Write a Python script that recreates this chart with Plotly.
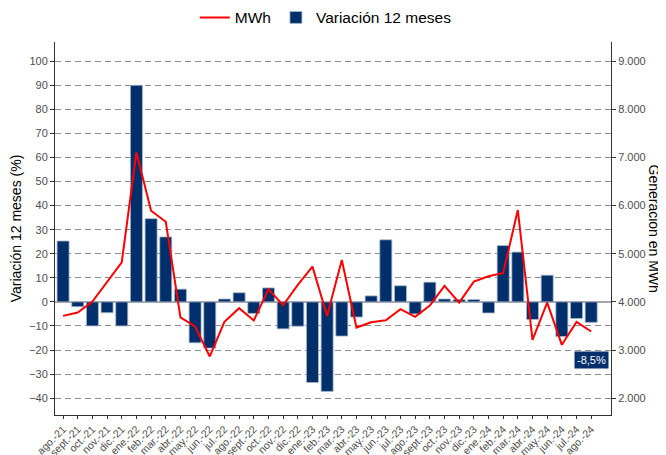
import plotly.graph_objects as go

months = ["ago.-21", "sept.-21", "oct.-21", "nov.-21", "dic.-21",
          "ene.-22", "feb.-22", "mar.-22", "abr.-22", "may.-22", "jun.-22", "jul.-22",
          "ago.-22", "sept.-22", "oct.-22", "nov.-22", "dic.-22",
          "ene.-23", "feb.-23", "mar.-23", "abr.-23", "may.-23", "jun.-23", "jul.-23",
          "ago.-23", "sept.-23", "oct.-23", "nov.-23", "dic.-23",
          "ene.-24", "feb.-24", "mar.-24", "abr.-24", "may.-24", "jun.-24", "jul.-24",
          "ago.-24"]

variacion = [25.3, -2.0, -10.0, -4.5, -10.0,
             90.0, 34.6, 27.0, 5.3, -17.0, -19.2, 1.2,
             3.8, -4.8, 5.8, -11.2, -10.1,
             -33.5, -37.2, -14.2, -6.3, 2.5, 25.8, 6.7,
             -5.0, 8.2, 1.2, 1.0, 1.0,
             -4.6, 23.4, 20.7, -7.3, 11.1, -14.4, -6.9,
             -8.5]

mwh = [3710, 3780, 4007, 4420, 4823,
       7105, 5894, 5666, 3680, 3490, 2866, 3585,
       3869, 3613, 4263, 3931, 4353,
       4733, 3710, 4871, 3467, 3578, 3620, 3848,
       3689, 3924, 4332, 3986, 4422,
       4532, 4602, 5909, 3212, 3986, 3108, 3585,
       3385]

left_ticks = list(range(-40, 101, 10))
right_ticks = list(range(2000, 9001, 1000))
right_labels = ["2.000", "3.000", "4.000", "5.000", "6.000", "7.000", "8.000", "9.000"]
last_label = "-8,5%"

x = list(range(len(months)))
navy = "#002f6c"
tick_color = "#4d4d4d"
font_family = "Liberation Sans, Arial, sans-serif"

fig = go.Figure()
fig.add_trace(go.Scatter(x=x, y=mwh, name="MWh", mode="lines",
                         line=dict(color="#ff0000", width=2), yaxis="y2"))
fig.add_trace(go.Bar(x=x, y=variacion, name="Variación 12 meses",
                     marker=dict(color=navy, line=dict(color="#a9b7cc", width=0.8)),
                     width=0.82))

fig.add_annotation(x=x[-1], y=-24, xref="x", yref="y", text=last_label,
                   showarrow=False, bgcolor=navy, font=dict(color="white", size=11),
                   borderpad=2)
fig.add_annotation(x=1.0, xref="paper", xanchor="center", xshift=43, y=0.5, yref="paper",
                   yanchor="middle", text="Generación en MWh", textangle=90, showarrow=False,
                   font=dict(size=14, color="black"))

lo, hi = -47, 108
fig.update_layout(
    width=658, height=447,
    margin=dict(l=47, r=55, t=34, b=40),
    plot_bgcolor="white", paper_bgcolor="white",
    font=dict(family=font_family, size=12, color=tick_color),
    showlegend=True,
    legend=dict(orientation="h", x=0.487, xanchor="center", y=0.978, yanchor="middle",
                yref="container", font=dict(size=15.5, color="black"),
                traceorder="normal"),
    xaxis=dict(range=[-0.55, 37.35], tickmode="array", tickvals=x, ticktext=months,
               tickangle=-45, ticks="outside", ticklen=3, tickcolor="#333",
               showline=True, linecolor="#333", linewidth=1, showgrid=False,
               zeroline=False, tickfont=dict(size=10.5, color=tick_color), automargin=False),
    yaxis=dict(range=[lo, hi], tickmode="array", tickvals=left_ticks,
               ticks="outside", ticklen=4, tickcolor="#333",
               showline=True, linecolor="#333", linewidth=1,
               showgrid=True, gridcolor="#8c8c8c", griddash="6px,4px", gridwidth=1,
               zeroline=True, zerolinecolor="#a6a6a6", zerolinewidth=1.5,
               title=dict(text="Variación 12 meses (%)", font=dict(size=14, color="black"), standoff=5),
               tickfont=dict(size=11, color=tick_color), automargin=False),
    yaxis2=dict(range=[4000 + 50 * lo, 4000 + 50 * hi], overlaying="y", side="right",
                tickmode="array", tickvals=right_ticks, ticktext=right_labels,
                ticks="outside", ticklen=4, tickcolor="#333",
                showline=True, linecolor="#333", linewidth=1,
                showgrid=False, zeroline=False,
                tickfont=dict(size=11, color=tick_color), automargin=False),
)

fig.write_html("out.html")
